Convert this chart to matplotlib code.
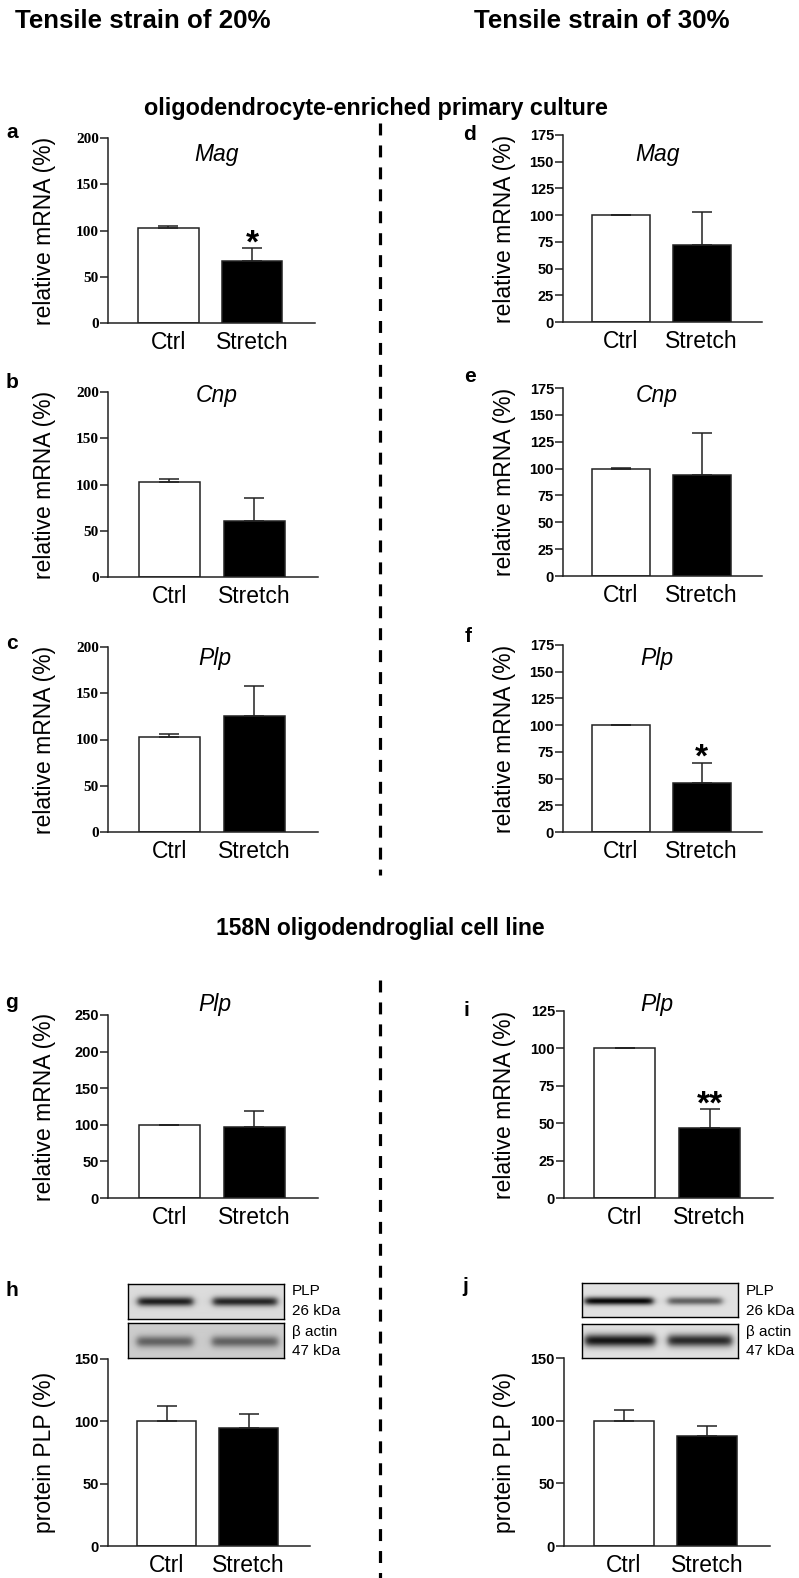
import numpy as np
import matplotlib
matplotlib.use('Agg')
import matplotlib.pyplot as plt
from matplotlib import font_manager
from matplotlib.lines import Line2D

# ---- data ----
groups = ['Ctrl', 'Stretch']

# oligodendrocyte-enriched primary culture, 20 % strain
mag_20 = [102.7, 67.0]
mag_20_err = [2.2, 14.0]
cnp_20 = [102.7, 60.5]
cnp_20_err = [3.5, 24.5]
plp_20 = [102.7, 125.6]
plp_20_err = [3.3, 32.5]

# oligodendrocyte-enriched primary culture, 30 % strain
mag_30 = [100.0, 72.0]
mag_30_err = [0.5, 31.0]
cnp_30 = [100.0, 94.0]
cnp_30_err = [0.5, 39.0]
plp_30 = [100.0, 46.0]
plp_30_err = [0.5, 19.0]

# 158N cell line
plp158_20 = [100.0, 96.7]
plp158_20_err = [0.3, 22.7]
plp158_30 = [100.0, 46.6]
plp158_30_err = [0.3, 12.6]
prot_20 = [100.0, 95.0]
prot_20_err = [12.5, 11.0]
prot_30 = [100.0, 87.7]
prot_30_err = [8.7, 8.3]

stars_a = ['', '*']
stars_f = ['', '*']
stars_i = ['', '**']
no_stars = ['', '']

# band strength for the western blots (Ctrl, Stretch)
blot_h_plp = [0.75, 0.72]
blot_h_actin = [0.42, 0.42]
blot_j_plp = [0.85, 0.5]
blot_j_actin = [0.8, 0.72]

# ---- figure ----
W, H = 799, 1578
plt.rcParams['font.family'] = ['Liberation Sans', 'DejaVu Sans']
plt.rcParams['lines.scale_dashes'] = False
fig = plt.figure(figsize=(W / 100, H / 100), dpi=100)

try:
    font_manager.findfont('Liberation Sans Narrow', fallback_to_default=False)
    narrow = True
except ValueError:
    narrow = False


def add_ax(l, t, r, b):
    return fig.add_axes([l / W, 1 - b / H, (r - l) / W, (b - t) / H])


def ftext(x, y, s, **kw):
    fig.text(x / W, 1 - y / H, s, **kw)


def bar_panel(box, vals, errs, ymax, step, serif, ylabel, gene, gene_xy, stars):
    l, t, r, b = box
    ax = add_ax(l, t, r, b)
    ax.bar([0, 1], vals, width=0.72, color=['white', 'black'], edgecolor='#222222',
           linewidth=1.1, yerr=[[0, 0], errs], capsize=7,
           error_kw=dict(elinewidth=1.1, capthick=1.1, ecolor='#222222'))
    ax.set_xlim(-0.72, 1.75)
    ax.set_ylim(0, ymax)
    ax.set_yticks(np.arange(0, ymax + 1, step))
    ax.set_xticks([0, 1])
    ax.set_xticklabels(groups, fontsize=16.5)
    for sp in ['top', 'right']:
        ax.spines[sp].set_visible(False)
    for sp in ['left', 'bottom']:
        ax.spines[sp].set_linewidth(1.1)
        ax.spines[sp].set_color('#222222')
    ax.tick_params(axis='x', length=0, pad=5.5)
    ax.tick_params(axis='y', length=5.5, width=1.1, pad=1, color='#222222')
    fam = 'Liberation Serif' if serif else 'Liberation Sans'
    for lab in ax.get_yticklabels():
        lab.set_fontfamily(fam)
        lab.set_fontweight('bold')
        lab.set_fontsize(11 if serif else 10.5)
    for i, s in enumerate(stars):
        if s:
            ax.annotate(s, xy=(i, vals[i] + errs[i]), xytext=(0, -3),
                        textcoords='offset points', ha='center', va='baseline',
                        fontsize=24, fontweight='bold')
    xlab = 45 if l < 380 else 505
    ftext(xlab, (t + b) / 2, ylabel, rotation=90, ha='center', va='center', fontsize=16.5)
    if gene:
        ftext(gene_xy[0], gene_xy[1], gene, ha='center', va='center',
              fontsize=16.5, style='italic')
    return ax


def draw_blot(box, lanes, strength, band_y, band_w, bg):
    l, t, r, b = box
    ax = add_ax(l, t, r, b)
    xs = np.arange(l, r) + 0.5
    ys = np.arange(t, b) + 0.5
    img = np.full((len(ys), len(xs)), bg)
    band = np.exp(-((ys - band_y) / band_w) ** 2)
    for (x0, x1), s in zip(lanes, strength):
        lane = 0.5 * (np.tanh((xs - x0) / 4) - np.tanh((xs - x1) / 4))
        img -= s * np.outer(band, lane)
    ax.imshow(img, cmap='gray', vmin=0, vmax=1, aspect='auto', interpolation='bilinear')
    ax.set_xticks([])
    ax.set_yticks([])
    for sp in ax.spines.values():
        sp.set_linewidth(1.0)


mrna = 'relative mRNA (%)'
prot = 'protein PLP (%)'

bar_panel((108, 138, 315, 323), mag_20, mag_20_err, 200, 50, True, mrna, 'Mag', (217, 155), stars_a)
bar_panel((108, 392, 318, 577), cnp_20, cnp_20_err, 200, 50, True, mrna, 'Cnp', (217, 396), no_stars)
bar_panel((108, 647, 318, 832), plp_20, plp_20_err, 200, 50, True, mrna, 'Plp', (215, 658), no_stars)
bar_panel((563, 135, 762, 322), mag_30, mag_30_err, 175, 25, False, mrna, 'Mag', (658, 155), no_stars)
bar_panel((563, 388, 762, 576), cnp_30, cnp_30_err, 175, 25, False, mrna, 'Cnp', (657, 396), no_stars)
bar_panel((563, 645, 762, 832), plp_30, plp_30_err, 175, 25, False, mrna, 'Plp', (657, 658), stars_f)
bar_panel((108, 1015, 318, 1198), plp158_20, plp158_20_err, 250, 50, False, mrna, 'Plp', (215, 1004), no_stars)
bar_panel((108, 1359, 310, 1546), prot_20, prot_20_err, 150, 50, False, prot, None, None, no_stars)
bar_panel((564, 1011, 773, 1198), plp158_30, plp158_30_err, 125, 25, False, mrna, 'Plp', (657, 1004), stars_i)
bar_panel((564, 1358, 770, 1546), prot_30, prot_30_err, 150, 50, False, prot, None, None, no_stars)

# western blots
draw_blot((128, 1284, 284, 1319), [(138, 193), (213, 277)], blot_h_plp, 1302, 4.5, 0.86)
draw_blot((128, 1323, 284, 1358), [(137, 193), (212, 278)], blot_h_actin, 1342, 5.5, 0.8)
draw_blot((582, 1283, 738, 1317), [(585, 653), (668, 722)], blot_j_plp, 1301, 4.0, 0.88)
draw_blot((582, 1324, 738, 1358), [(585, 655), (668, 732)], blot_j_actin, 1341, 6.0, 0.88)
for bx in (292, 746):
    for yy, s in zip([1291, 1311, 1332, 1351], ['PLP', '26 kDa', '\u03b2 actin', '47 kDa']):
        ftext(bx, yy, s, ha='left', va='center', fontsize=11)

# headers
hfam = ['Liberation Sans Narrow', 'Liberation Sans'] if narrow else ['Liberation Sans']
hsize = 22.5 if narrow else 18.6
ssize = 20.5 if narrow else 16.8
ftext(15, 21, 'Tensile strain of 20%', ha='left', va='center', fontsize=hsize,
      fontweight='bold', family=hfam)
ftext(474, 21, 'Tensile strain of 30%', ha='left', va='center', fontsize=hsize,
      fontweight='bold', family=hfam)
ftext(376, 109, 'oligodendrocyte-enriched primary culture', ha='center', va='center',
      fontsize=ssize, fontweight='bold', family=hfam)
ftext(380, 929, '158N oligodendroglial cell line', ha='center', va='center',
      fontsize=16.5, fontweight='bold')

# panel letters
for s, (x, y) in zip('abcdefghij', [(12, 132), (12, 383), (12, 643), (470, 134), (470, 377),
                                     (468, 637), (12, 1003), (12, 1291), (466, 1011), (465, 1287)]):
    ftext(x, y, s, ha='center', va='center', fontsize=15, fontweight='bold')

# dashed divider
for y0, y1 in [(123, 875), (980, 1578)]:
    fig.add_artist(Line2D([380 / W, 380 / W], [1 - y0 / H, 1 - y1 / H],
                          transform=fig.transFigure, color='black', lw=2.3,
                          dashes=(8.6, 7.2)))

fig.savefig('out.png', dpi=100)
